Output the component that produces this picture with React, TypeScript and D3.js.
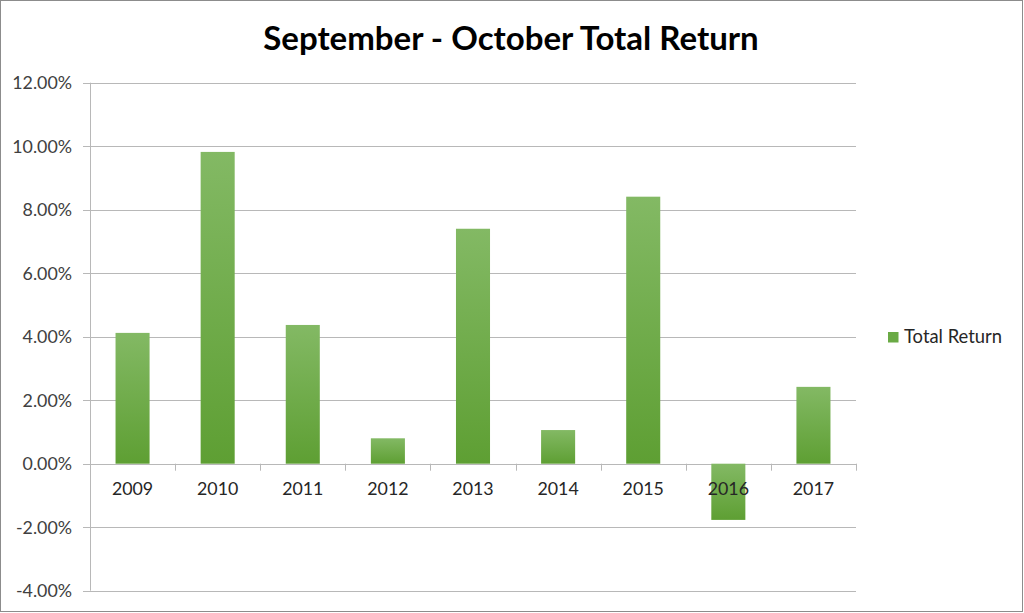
import React from "react";
import * as d3 from "d3";

const years = ["2009", "2010", "2011", "2012", "2013", "2014", "2015", "2016", "2017"];
const totalReturn = [4.12, 9.82, 4.37, 0.8, 7.4, 1.06, 8.41, -1.77, 2.42];
const yTicks = [-4, -2, 0, 2, 4, 6, 8, 10, 12];
const title = "September - October Total Return";
const seriesName = "Total Return";

export default function App() {
  const W = 1024, H = 613;
  const left = 90, right = 856, top = 82.7, bottom = 590.7;
  const x = d3.scaleBand<string>().domain(years).range([left, right]).paddingInner(0.6).paddingOuter(0.3);
  const xb = d3.scaleBand<string>().domain(years).range([left, right]);
  const y = d3.scaleLinear().domain([-4, 12]).range([bottom, top]);
  const grid = "#b8b8b8";
  const font = "Lato, 'Open Sans', sans-serif";
  return (
    <svg width={W} height={H} style={{ position: "absolute", left: 0, top: 0, background: "#fff" }} fontFamily={font}>
      <defs>
        <linearGradient id="g" x1="0" y1="0" x2="0" y2="1">
          <stop offset="0" stopColor="#83b964" />
          <stop offset="1" stopColor="#5e9f33" />
        </linearGradient>
      </defs>
      <rect x={0.5} y={0.5} width={1022} height={611} fill="#fff" stroke="#8c8c8c" />
      <text x={511} y={50} textAnchor="middle" fontSize={33} fontWeight="bold" fill="#000">{title}</text>
      {yTicks.map((t) => (
        <g key={t}>
          <line x1={left - 7} x2={right} y1={Math.round(y(t)) + 0.5} y2={Math.round(y(t)) + 0.5} stroke={grid} />
          <text x={72} y={y(t) + 6.5} textAnchor="end" fontSize={17.8} fill="#404040">{t.toFixed(2)}%</text>
        </g>
      ))}
      <line x1={left + 0.5} x2={left + 0.5} y1={top} y2={bottom} stroke={grid} />
      {years.map((yr) => (
        <line key={"t" + yr} x1={Math.round(xb(yr)! + xb.bandwidth()) + 0.5} x2={Math.round(xb(yr)! + xb.bandwidth()) + 0.5} y1={y(0)} y2={y(0) + 7} stroke={grid} />
      ))}
      {years.map((yr, i) => {
        const v = totalReturn[i];
        const y0 = y(Math.max(0, v));
        const h = Math.abs(y(v) - y(0));
        return <rect key={yr} x={x(yr)} y={y0} width={x.bandwidth()} height={h} fill="url(#g)" />;
      })}
      {years.map((yr) => (
        <text key={"l" + yr} x={xb(yr)! + xb.bandwidth() / 2} y={y(0) + 31.5} textAnchor="middle" fontSize={17.8} fill="#262626">{yr}</text>
      ))}
      <rect x={888} y={332} width={10.5} height={10.5} fill="#6aaa45" />
      <text x={904} y={343} fontSize={18.4} fill="#262626">{seriesName}</text>
    </svg>
  );
}
